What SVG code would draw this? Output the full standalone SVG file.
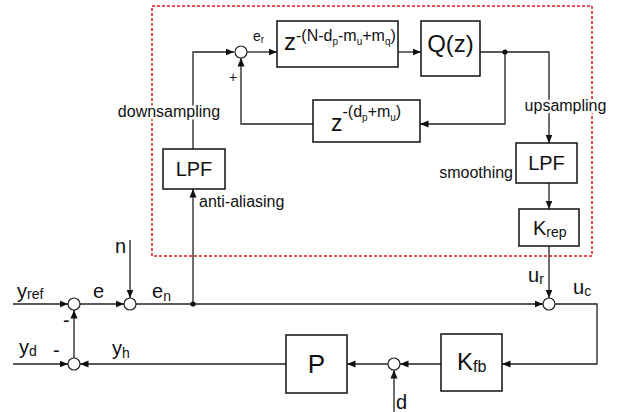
<svg xmlns="http://www.w3.org/2000/svg" width="624" height="412" viewBox="0 0 624 412">
<style>
text{font-family:"Liberation Sans",Arial,sans-serif;fill:#111}
.box{fill:#fff;stroke:#111;stroke-width:1.5}
.ln{fill:none;stroke:#222;stroke-width:1.3}
.sum{fill:#fff;stroke:#222;stroke-width:1.2}
.halo{paint-order:stroke;stroke:#fff;stroke-width:5px;stroke-linejoin:round}
.lab{font-size:16px}
.sig{font-size:20px}
.sub{font-size:14px}
</style>
<defs>
<marker id="ah" markerUnits="userSpaceOnUse" markerWidth="9" markerHeight="8" refX="8.5" refY="4" orient="auto">
<path d="M0,0.5 L8.5,4 L0,7.5 z" fill="#111"/>
</marker>
</defs>
<rect id="region" x="152" y="6" width="440" height="250" fill="none" stroke="#e8141a" stroke-width="1.5" stroke-dasharray="3,2"/>
<g id="connectors">
<path class="ln" d="M193,149 V52 H234" marker-end="url(#ah)"/>
<path class="ln" d="M247,52 H277" marker-end="url(#ah)"/>
<path class="ln" d="M398,52 H421" marker-end="url(#ah)"/>
<path class="ln" d="M480,52 H549 V143" marker-end="url(#ah)"/>
<path class="ln" d="M505,52 V124 H420" marker-end="url(#ah)"/>
<path class="ln" d="M313,124 H241 V58" marker-end="url(#ah)"/>
<path class="ln" d="M549,183 V209" marker-end="url(#ah)"/>
<path class="ln" d="M549,246 V298" marker-end="url(#ah)"/>
<path class="ln" d="M193,304 V189" marker-end="url(#ah)"/>
<path class="ln" d="M13,304 H68" marker-end="url(#ah)"/>
<path class="ln" d="M80,304 H124" marker-end="url(#ah)"/>
<path class="ln" d="M130,240 V298" marker-end="url(#ah)"/>
<path class="ln" d="M136,304 H543" marker-end="url(#ah)"/>
<path class="ln" d="M13,364 H68" marker-end="url(#ah)"/>
<path class="ln" d="M74,358 V310" marker-end="url(#ah)"/>
<path class="ln" d="M286,364 H80" marker-end="url(#ah)"/>
<path class="ln" d="M555,304 H597 V364 H502" marker-end="url(#ah)"/>
<path class="ln" d="M441,364 H400" marker-end="url(#ah)"/>
<path class="ln" d="M388,364 H347" marker-end="url(#ah)"/>
<path class="ln" d="M394,412 V370" marker-end="url(#ah)"/>
<circle cx="505" cy="52" r="2.6" fill="#111"/>
<circle cx="193" cy="304" r="2.6" fill="#111"/>
</g>
<g id="sum_er"><circle class="sum" cx="241" cy="52" r="6"/></g>
<g id="sum_e"><circle class="sum" cx="74" cy="304" r="6"/></g>
<g id="sum_en"><circle class="sum" cx="130" cy="304" r="6"/></g>
<g id="sum_uc"><circle class="sum" cx="549" cy="304" r="6"/></g>
<g id="sum_yh"><circle class="sum" cx="74" cy="364" r="6"/></g>
<g id="sum_d"><circle class="sum" cx="394" cy="364" r="6"/></g>
<g id="delay1">
<rect class="box" x="277" y="21" width="121" height="46"/>
<text x="284" y="49.5" font-size="24">z<tspan font-size="16" dy="-9">-(N-d</tspan><tspan font-size="10" dy="4">p</tspan><tspan font-size="16" dy="-4">-m</tspan><tspan font-size="10" dy="4">u</tspan><tspan font-size="16" dy="-4">+m</tspan><tspan font-size="10" dy="4">q</tspan><tspan font-size="16" dy="-4">)</tspan></text>
</g>
<g id="Q">
<rect class="box" x="421" y="21" width="59" height="55"/>
<text x="450.5" y="52" font-size="24" text-anchor="middle">Q(z)</text>
</g>
<g id="delay2">
<rect class="box" x="313" y="100" width="107" height="42"/>
<text x="331" y="131" font-size="23">z<tspan font-size="16" dy="-14">-(d</tspan><tspan font-size="10" dy="4">p</tspan><tspan font-size="16" dy="-4">+m</tspan><tspan font-size="10" dy="4">u</tspan><tspan font-size="16" dy="-4">)</tspan></text>
</g>
<g id="LPF1">
<rect class="box" x="163" y="149" width="62" height="40"/>
<text x="194" y="176" font-size="20" text-anchor="middle">LPF</text>
</g>
<g id="LPF2">
<rect class="box" x="516" y="143" width="61" height="40"/>
<text x="546.5" y="169.5" font-size="20" text-anchor="middle">LPF</text>
</g>
<g id="Krep">
<rect class="box" x="519" y="209" width="60" height="37"/>
<text x="533" y="234.5" font-size="20">K<tspan font-size="14" dy="2.5">rep</tspan></text>
</g>
<g id="P">
<rect class="box" x="286" y="335" width="61" height="58"/>
<text x="316.5" y="373" font-size="26" text-anchor="middle">P</text>
</g>
<g id="Kfb">
<rect class="box" x="441" y="334" width="61" height="57"/>
<text x="457" y="370" font-size="24">K<tspan font-size="16" dy="2">fb</tspan></text>
</g>
<g id="labels">
<text class="lab halo" x="169" y="117" text-anchor="middle">downsampling</text>
<text class="lab halo" x="565.5" y="111" text-anchor="middle">upsampling</text>
<text class="lab" x="513" y="178" text-anchor="end">smoothing</text>
<text class="lab" x="199" y="207">anti-aliasing</text>
<text x="253" y="40.5" font-size="14">e<tspan font-size="10" dy="2.5">r</tspan></text>
<text x="229" y="82" font-size="14">+</text>
<text class="sig" x="17" y="298">y<tspan class="sub" dy="1">ref</tspan></text>
<text class="sig" x="93" y="298">e</text>
<text class="sig" x="115" y="252.5">n</text>
<text class="sig" x="152" y="298">e<tspan class="sub" dy="3">n</tspan></text>
<text class="sig" x="63" y="327">-</text>
<text class="sig" x="19" y="353.5">y<tspan class="sub" dy="2.5">d</tspan></text>
<text class="sig" x="53" y="357">-</text>
<text class="sig" x="112" y="355">y<tspan class="sub" dy="3">h</tspan></text>
<text class="sig" x="528" y="282">u<tspan class="sub" dy="2">r</tspan></text>
<text class="sig" x="573" y="294">u<tspan class="sub" dy="2">c</tspan></text>
<text class="sig" x="396" y="409">d</text>
</g>
</svg>
